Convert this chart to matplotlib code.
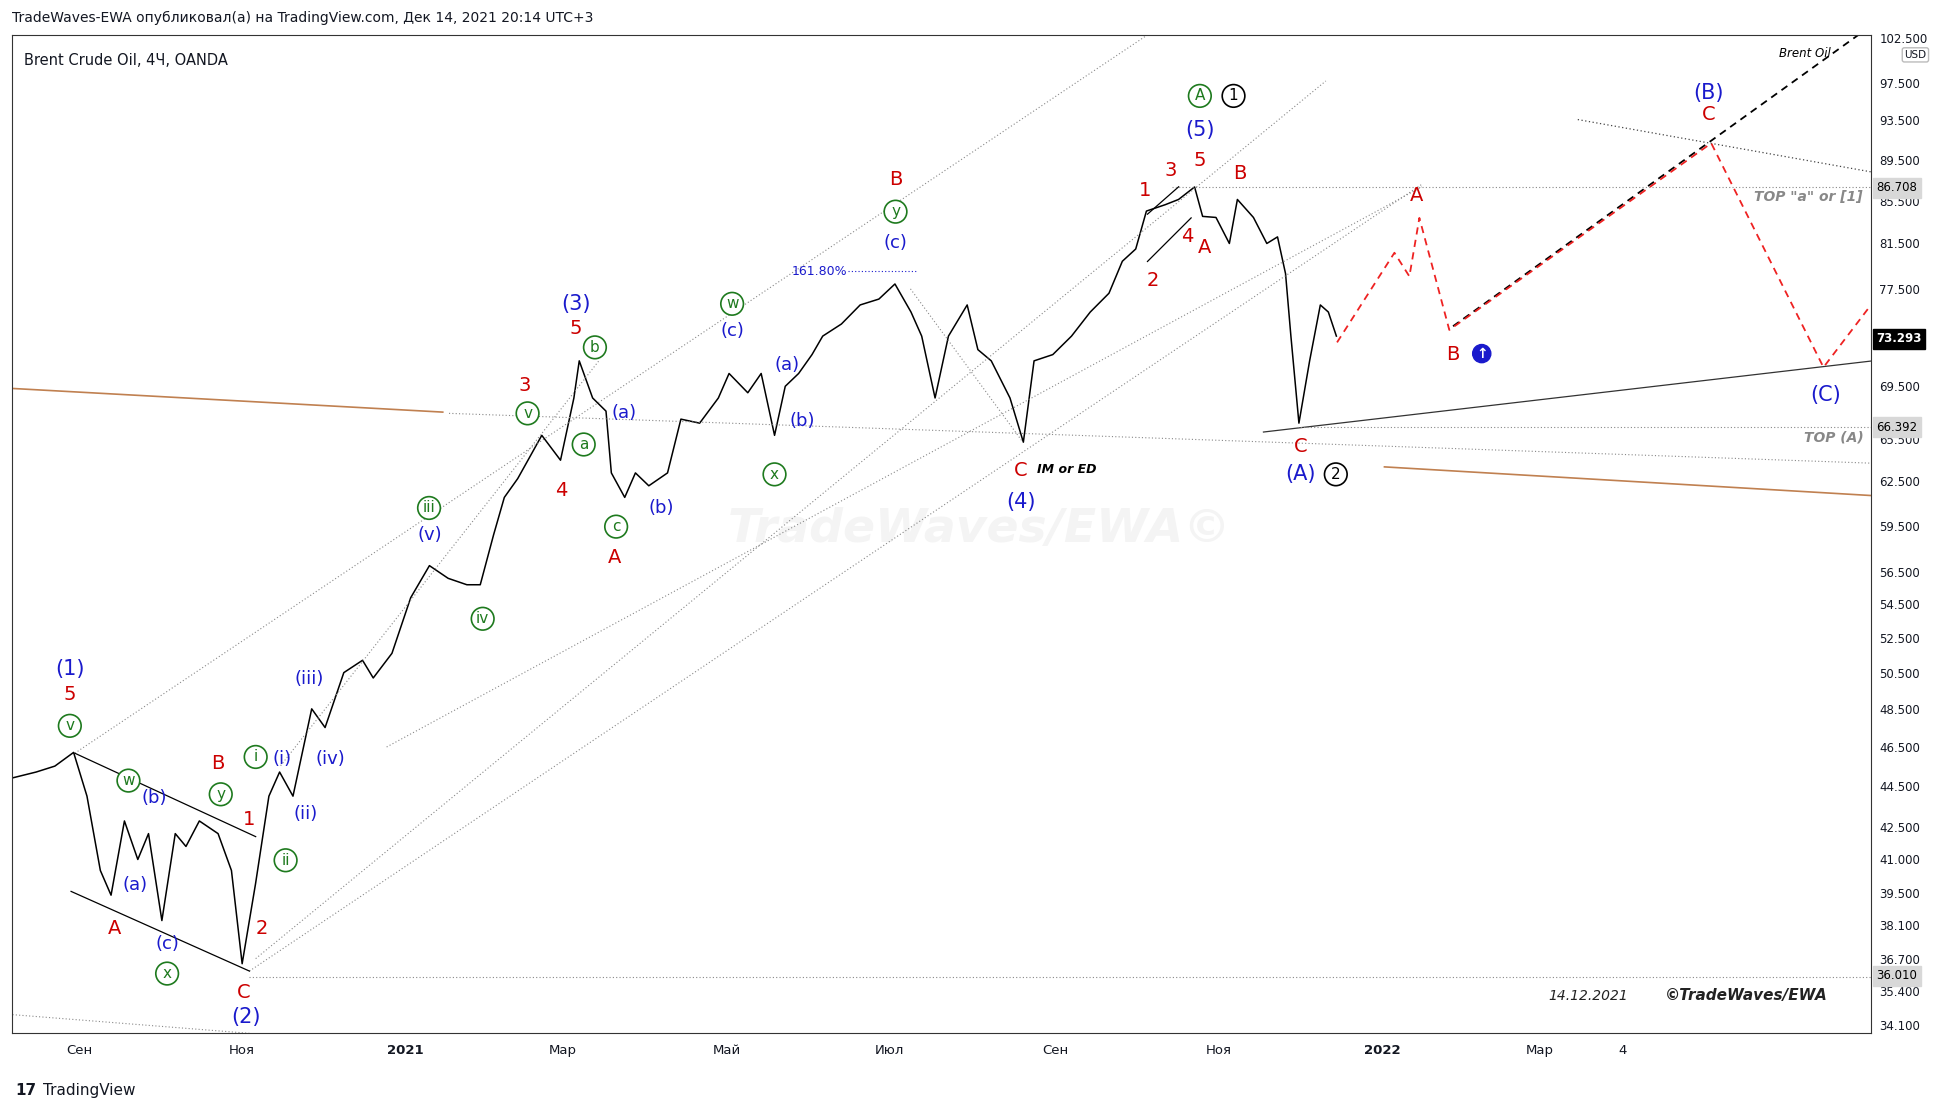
import datetime as dt
import matplotlib
matplotlib.use("Agg")
import matplotlib.pyplot as plt
import matplotlib.dates as mdates

# price path: days from 2021-01-01 and close price
days = [-147, -138, -131, -124, -119, -114, -110, -105, -100, -96, -91, -86, -82, -77,
        -70, -65, -61, -56, -51, -47, -42, -35, -30, -23, -16, -12, -5, 2, 9, 16, 23,
        28, 33, 37, 42, 47, 51, 58, 63, 65, 70, 75, 77, 82, 86, 91, 98, 103, 110, 117,
        121, 128, 133, 138, 142, 147, 152, 156, 163, 170, 177, 183, 189, 193, 198, 203,
        210, 214, 219, 226, 231, 235, 242, 249, 256, 263, 268, 273, 277, 284, 289, 295,
        298, 303, 308, 311, 317, 322, 326, 329, 331, 334, 338, 342, 345, 348]
price = [44.9, 45.2, 45.5, 46.2, 44.0, 40.5, 39.4, 42.8, 41.0, 42.2, 38.3, 42.2, 41.6, 42.8,
         42.2, 40.5, 36.5, 39.9, 44.0, 45.2, 44.0, 48.5, 47.5, 50.5, 51.2, 50.2, 51.6, 54.9,
         56.9, 56.1, 55.7, 55.7, 58.9, 61.4, 62.7, 64.4, 65.8, 64.0, 68.6, 71.5, 68.6, 67.6,
         63.1, 61.4, 63.1, 62.2, 63.1, 67.0, 66.7, 68.6, 70.5, 69.0, 70.5, 65.8, 69.5, 70.5,
         72.0, 73.5, 74.5, 76.1, 76.6, 77.9, 75.5, 73.5, 68.6, 73.5, 76.1, 72.4, 71.5, 68.6,
         65.3, 71.5, 72.0, 73.5, 75.5, 77.1, 79.9, 81.0, 84.5, 85.1, 85.6, 86.8, 84.0, 83.9,
         81.5, 85.6, 83.9, 81.5, 82.1, 78.8, 73.5, 66.7, 71.5, 76.1, 75.5, 73.5]

y_ticks = [34.1, 35.4, 36.7, 38.1, 39.5, 41.0, 42.5, 44.5, 46.5, 48.5, 50.5, 52.5, 54.5,
           56.5, 59.5, 62.5, 65.5, 69.5, 73.5, 77.5, 81.5, 85.5, 89.5, 93.5, 97.5, 102.5]
x_tick_dates = ["2020-09-01", "2020-11-01", "2021-01-01", "2021-03-01", "2021-05-01",
                "2021-07-01", "2021-09-01", "2021-11-01", "2022-01-01", "2022-03-01",
                "2022-04-01"]
x_tick_labels = ["Сен", "Ноя", "2021", "Мар", "Май", "Июл", "Сен", "Ноя", "2022", "Мар", "4"]
levels = [86.708, 73.293, 66.392, 36.010]

BASE = mdates.date2num(dt.datetime(2021, 1, 1))
RED, BLUE, GREEN = "#cc0000", "#1a1acc", "#1e7a1e"


def P(x, y):
    """position given in pixels of the reference image (1560 wide) -> data"""
    return BASE + (x - 325) / 2.145, 10 ** (1.5328 + (823 - y) * 0.000603)


fig = plt.figure(figsize=(19.46, 11.08), dpi=100)
ax = fig.add_axes([0.0064, 0.0674, 0.955, 0.9011])
ax.set_yscale("log")
ax.plot([BASE + d for d in days], price, color="black", lw=1.1)

x0, y0 = P(10, 830)
x1, y1 = P(1500, 28)
ax.set_xlim(x0, x1)
ax.set_ylim(y0, y1)


def seg(pts, **kw):
    xs, ys = zip(*[P(*p) for p in pts])
    ax.plot(xs, ys, **kw)


dot = dict(color="#888888", lw=0.8, ls=(0, (1, 2)))
seg([(60, 605), (920, 28)], **dot)
seg([(205, 770), (1063, 65)], **dot)
seg([(200, 780), (1140, 148)], **dot)
seg([(310, 600), (1140, 150)], **dot)
seg([(225, 615), (480, 290)], **dot)
seg([(360, 332), (1500, 372)], **dot)
seg([(730, 232), (820, 355)], **dot)
seg([(10, 815), (200, 830)], **dot)
seg([(1265, 96), (1500, 138)], color="#444444", lw=0.9, ls=(0, (1, 2)))
seg([(10, 312), (355, 331)], color="#c08050", lw=1.2)
seg([(1110, 375), (1500, 398)], color="#c08050", lw=1.2)
seg([(1013, 347), (1500, 290)], color="#333333", lw=0.9)
seg([(60, 605), (205, 672)], color="black", lw=0.9)
seg([(57, 716), (200, 780)], color="black", lw=0.9)
seg([(920, 172), (945, 150)], color="black", lw=0.9)
seg([(920, 210), (955, 175)], color="black", lw=0.9)
seg([(940, 150), (1500, 150)], **dot)
seg([(1040, 343), (1500, 343)], **dot)
seg([(200, 785), (1500, 785)], **dot)
seg([(680, 218), (735, 218)], color=BLUE, lw=0.8, ls=(0, (1, 2)))
seg([(1165, 262), (1490, 28)], color="black", lw=1.3, ls=(0, (4, 3)))
seg([(1072, 275), (1118, 203), (1130, 222), (1138, 175), (1162, 265), (1372, 115),
     (1462, 295), (1500, 245)], color="#ee2222", lw=1.3, ls=(0, (4, 3)))


def lab(x, y, s, c, size=14):
    ax.text(*P(x, y), s, color=c, fontsize=size, ha="center", va="center")


def circ(x, y, s, c=GREEN):
    ax.text(*P(x, y), s, color=c, fontsize=11, ha="center", va="center",
            bbox=dict(boxstyle="circle,pad=0.25", fc="white", ec=c, lw=1.2))


for x, y, s in [(56, 558, "5"), (175, 613, "B"), (200, 658, "1"), (210, 746, "2"),
                (92, 746, "A"), (195, 797, "C"), (421, 310, "3"), (462, 264, "5"),
                (450, 394, "4"), (493, 448, "A"), (718, 144, "B"), (918, 153, "1"),
                (939, 137, "3"), (962, 129, "5"), (994, 139, "B"), (924, 225, "2"),
                (952, 190, "4"), (966, 199, "A"), (818, 378, "C"), (1043, 359, "C"),
                (1136, 157, "A"), (1165, 285, "B"), (1370, 92, "C")]:
    lab(x, y, s, RED)

for x, y, s in [(56, 537, "(1)"), (197, 817, "(2)"), (462, 244, "(3)"), (819, 403, "(4)"),
                (962, 104, "(5)"), (1043, 381, "(A)"), (1370, 75, "(B)"), (1464, 317, "(C)")]:
    lab(x, y, s, BLUE, 15)

for x, y, s in [(108, 711, "(a)"), (124, 641, "(b)"), (134, 758, "(c)"), (226, 610, "(i)"),
                (245, 654, "(ii)"), (248, 545, "(iii)"), (265, 610, "(iv)"), (345, 430, "(v)"),
                (500, 332, "(a)"), (530, 408, "(b)"), (587, 266, "(c)"), (631, 293, "(a)"),
                (643, 338, "(b)"), (718, 195, "(c)")]:
    lab(x, y, s, BLUE, 13)

for x, y, s in [(56, 583, "v"), (103, 627, "w"), (177, 638, "y"), (134, 782, "x"),
                (205, 608, "i"), (229, 691, "ii"), (344, 408, "iii"), (387, 497, "iv"),
                (423, 332, "v"), (477, 279, "b"), (468, 357, "a"), (494, 423, "c"),
                (587, 244, "w"), (621, 381, "x"), (718, 170, "y"), (962, 77, "A")]:
    circ(x, y, s)
circ(989, 77, "1", "black")
circ(1071, 381, "2", "black")
ax.text(*P(1188, 284), "↑", color="white", fontsize=10, fontweight="bold", ha="center",
        va="center", bbox=dict(boxstyle="circle,pad=0.15", fc=BLUE, ec=BLUE))

ax.text(*P(657, 218), "161.80%", color=BLUE, fontsize=9, ha="center", va="center")
ax.text(*P(855, 377), "IM or ED", color="black", fontsize=9, style="italic",
        fontweight="bold", ha="center", va="center")
ax.text(*P(1450, 158), 'TOP "a" or [1]', color="#888888", fontsize=10, style="italic",
        fontweight="bold", ha="center", va="center")
ax.text(*P(1470, 351), "TOP (A)", color="#888888", fontsize=10, style="italic",
        fontweight="bold", ha="center", va="center")
ax.text(*P(1447, 43), "Brent Oil", color="black", fontsize=8.5, style="italic",
        ha="center", va="center")
ax.text(*P(1273, 800), "14.12.2021", color="#222222", fontsize=10, style="italic",
        ha="center", va="center")
ax.text(*P(1400, 800), "©TradeWaves/EWA", color="#222222", fontsize=11, style="italic",
        fontweight="bold", ha="center", va="center")
ax.text(*P(785, 425), "TradeWaves/EWA©", color="#f4f4f4", fontsize=34, style="italic",
        fontweight="bold", ha="center", va="center", zorder=0)
ax.text(0.006, 0.982, "Brent Crude Oil, 4Ч, OANDA", transform=ax.transAxes, fontsize=10.5,
        va="top", color="#131722")

ax.yaxis.tick_right()
ax.set_yticks(y_ticks)
ax.set_yticklabels([f"{v:.3f}" for v in y_ticks])
ax.yaxis.set_minor_locator(matplotlib.ticker.NullLocator())
ax.tick_params(axis="y", labelsize=8.5, length=0, colors="#131722", pad=6)
ax.set_xticks([mdates.date2num(dt.datetime.fromisoformat(d)) for d in x_tick_dates])
ax.set_xticklabels(x_tick_labels)
ax.tick_params(axis="x", labelsize=9.5, length=0, colors="#131722", pad=8)
for t in ax.get_xticklabels():
    if t.get_text() in ("2021", "2022"):
        t.set_fontweight("bold")
for s in ax.spines.values():
    s.set_color("#333333")
    s.set_linewidth(0.8)

for v in levels:
    if v == 73.293:
        ax.text(1.003, v, f"{v:.3f}", transform=ax.get_yaxis_transform(), fontsize=8.5,
                color="white", fontweight="bold", va="center",
                bbox=dict(boxstyle="square,pad=0.3", fc="black", ec="black"))
    else:
        ax.text(1.003, v, f"{v:.3f}", transform=ax.get_yaxis_transform(), fontsize=8.5,
                color="black", va="center",
                bbox=dict(boxstyle="square,pad=0.3", fc="#d8d8d8", ec="#d8d8d8"))
ax.text(1.018, 0.985, "USD", transform=ax.transAxes, fontsize=7.5, color="#131722",
        va="top", bbox=dict(boxstyle="round,pad=0.2", fc="white", ec="#bbbbbb"))

fig.text(0.006, 0.984, "TradingView-EWA".replace("TradingView", "TradeWaves") +
         " опубликовал(а) на TradingView.com, Дек 14, 2021 20:14 UTC+3",
         fontsize=10, color="#131722", va="center")
fig.text(0.022, 0.016, "TradingView", fontsize=11, color="#131722", va="center")
fig.text(0.008, 0.016, "17", fontsize=11, fontweight="bold", color="#131722", va="center")

fig.savefig("out.png", dpi=100)
